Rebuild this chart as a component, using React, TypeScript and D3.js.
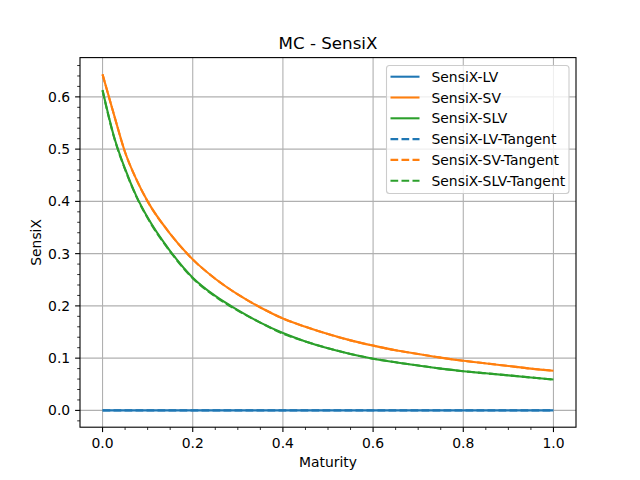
import * as d3 from 'd3'
import { useEffect } from 'react'

// maturity grid and SensiX values
const maturity = [0, 0.025, 0.05, 0.075, 0.1, 0.15, 0.2, 0.25, 0.3, 0.35, 0.4, 0.45, 0.5, 0.55, 0.6, 0.65, 0.7, 0.75, 0.8, 0.85, 0.9, 0.95, 1.0]
const sensixLV = [0, 0, 0, 0, 0, 0, 0, 0, 0, 0, 0, 0, 0, 0, 0, 0, 0, 0, 0, 0, 0, 0, 0]
const sensixSV = [0.643, 0.567, 0.494, 0.442, 0.4, 0.338, 0.289, 0.252, 0.222, 0.197, 0.176, 0.16, 0.146, 0.134, 0.124, 0.115, 0.108, 0.101, 0.095, 0.09, 0.085, 0.08, 0.076]
const sensixSLV = [0.613, 0.525, 0.462, 0.41, 0.369, 0.305, 0.254, 0.219, 0.192, 0.168, 0.148, 0.132, 0.119, 0.108, 0.099, 0.092, 0.086, 0.08, 0.075, 0.071, 0.067, 0.063, 0.059]
const sensixLVTangent = [0, 0, 0, 0, 0, 0, 0, 0, 0, 0, 0, 0, 0, 0, 0, 0, 0, 0, 0, 0, 0, 0, 0]
const sensixSVTangent = [0.643, 0.567, 0.494, 0.442, 0.4, 0.338, 0.289, 0.252, 0.222, 0.197, 0.176, 0.16, 0.146, 0.134, 0.124, 0.115, 0.108, 0.101, 0.095, 0.09, 0.085, 0.08, 0.076]
const sensixSLVTangent = [0.612, 0.524, 0.461, 0.409, 0.368, 0.304, 0.253, 0.218, 0.191, 0.168, 0.147, 0.132, 0.119, 0.108, 0.099, 0.092, 0.086, 0.08, 0.075, 0.071, 0.067, 0.063, 0.059]

const xTicks = [0, 0.2, 0.4, 0.6, 0.8, 1.0]
const yTicks = [0, 0.1, 0.2, 0.3, 0.4, 0.5, 0.6]

const series = [
  { name: 'SensiX-LV', values: sensixLV, color: '#1f77b4', dashed: false },
  { name: 'SensiX-SV', values: sensixSV, color: '#ff7f0e', dashed: false },
  { name: 'SensiX-SLV', values: sensixSLV, color: '#2ca02c', dashed: false },
  { name: 'SensiX-LV-Tangent', values: sensixLVTangent, color: '#1f77b4', dashed: true },
  { name: 'SensiX-SV-Tangent', values: sensixSVTangent, color: '#ff7f0e', dashed: true },
  { name: 'SensiX-SLV-Tangent', values: sensixSLVTangent, color: '#2ca02c', dashed: true },
]

const W = 640
const H = 480
const margin = { left: 80, right: 576, top: 57.6, bottom: 427.2 }
const font = 'DejaVu Sans, sans-serif'
const dash = '7.7,3.3'

export default function App() {
  useEffect(() => {
    document.body.style.margin = '0'
  }, [])

  const allVals = series.flatMap(s => s.values)
  const yMin = d3.min(allVals) as number
  const yMax = d3.max(allVals) as number
  const yPad = (yMax - yMin) * 0.05

  const x = d3.scaleLinear().domain([-0.05, 1.05]).range([margin.left, margin.right])
  const y = d3.scaleLinear().domain([yMin - yPad, yMax + yPad]).range([margin.bottom, margin.top])

  const xMinor = d3.range(0, 21).map(i => i * 0.05).filter((_, i) => i % 4 !== 0)
  const yMinor = d3.range(-1, 34).map(i => i * 0.02).filter(v => Math.abs(Math.round(v * 10) - v * 10) > 1e-6)
    .filter(v => y(v) <= margin.bottom && y(v) >= margin.top)

  const line = d3.line<number>()
    .x((_, i) => x(maturity[i]))
    .y(d => y(d))
    .curve(d3.curveMonotoneX)

  const legendX = 386.5
  const legendY = 65.5
  const rowH = 20.8

  return (
    <svg width={W} height={H} style={{ display: 'block', background: '#fff' }} fontFamily={font}>
      <defs>
        <clipPath id="plotArea">
          <rect x={margin.left} y={margin.top} width={margin.right - margin.left} height={margin.bottom - margin.top} />
        </clipPath>
      </defs>
      {/* grid */}
      {xTicks.map(t => (
        <line key={'gx' + t} x1={x(t)} x2={x(t)} y1={margin.top} y2={margin.bottom} stroke="#b0b0b0" strokeWidth={1.1} />
      ))}
      {yTicks.map(t => (
        <line key={'gy' + t} x1={margin.left} x2={margin.right} y1={y(t)} y2={y(t)} stroke="#b0b0b0" strokeWidth={1.1} />
      ))}

      {/* lines */}
      <g clipPath="url(#plotArea)">
        {series.map(s => (
          <path key={s.name} d={line(s.values) as string} fill="none" stroke={s.color} strokeWidth={2.08}
            strokeDasharray={s.dashed ? dash : undefined} />
        ))}
      </g>

      {/* spines */}
      <rect x={margin.left} y={margin.top} width={margin.right - margin.left} height={margin.bottom - margin.top}
        fill="none" stroke="#000" strokeWidth={1.1} />

      {/* x ticks */}
      {xTicks.map(t => (
        <g key={'xt' + t}>
          <line x1={x(t)} x2={x(t)} y1={margin.bottom} y2={margin.bottom + 4.9} stroke="#000" strokeWidth={1.1} />
          <text x={x(t)} y={margin.bottom + 20.5} textAnchor="middle" fontSize={13.9}>{t.toFixed(1)}</text>
        </g>
      ))}
      {xMinor.map(t => (
        <line key={'xm' + t} x1={x(t)} x2={x(t)} y1={margin.bottom} y2={margin.bottom + 2.8} stroke="#000" strokeWidth={0.8} />
      ))}

      {/* y ticks */}
      {yTicks.map(t => (
        <g key={'yt' + t}>
          <line x1={margin.left - 4.9} x2={margin.left} y1={y(t)} y2={y(t)} stroke="#000" strokeWidth={1.1} />
          <text x={margin.left - 9.8} y={y(t) + 5} textAnchor="end" fontSize={13.9}>{t.toFixed(1)}</text>
        </g>
      ))}
      {yMinor.map(t => (
        <line key={'ym' + t} x1={margin.left - 2.8} x2={margin.left} y1={y(t)} y2={y(t)} stroke="#000" strokeWidth={0.8} />
      ))}

      {/* labels */}
      <text x={(margin.left + margin.right) / 2} y={49} textAnchor="middle" fontSize={16.7}>MC - SensiX</text>
      <text x={(margin.left + margin.right) / 2} y={467} textAnchor="middle" fontSize={13.9}>Maturity</text>
      <text transform={`translate(41,${(margin.top + margin.bottom) / 2}) rotate(-90)`} textAnchor="middle" fontSize={13.9}>SensiX</text>

      {/* legend */}
      <rect x={legendX} y={legendY} width={182.5} height={128} rx={3} fill="#fff" fillOpacity={0.8} stroke="#cccccc" strokeWidth={1.1} />
      {series.map((s, i) => {
        const cy = legendY + 11.2 + i * rowH
        return (
          <g key={'lg' + s.name}>
            <line x1={legendX + 4} x2={legendX + 33} y1={cy} y2={cy} stroke={s.color} strokeWidth={2.08}
              strokeDasharray={s.dashed ? dash : undefined} />
            <text x={legendX + 45} y={cy + 5} fontSize={13.9}>{s.name}</text>
          </g>
        )
      })}
    </svg>
  )
}
